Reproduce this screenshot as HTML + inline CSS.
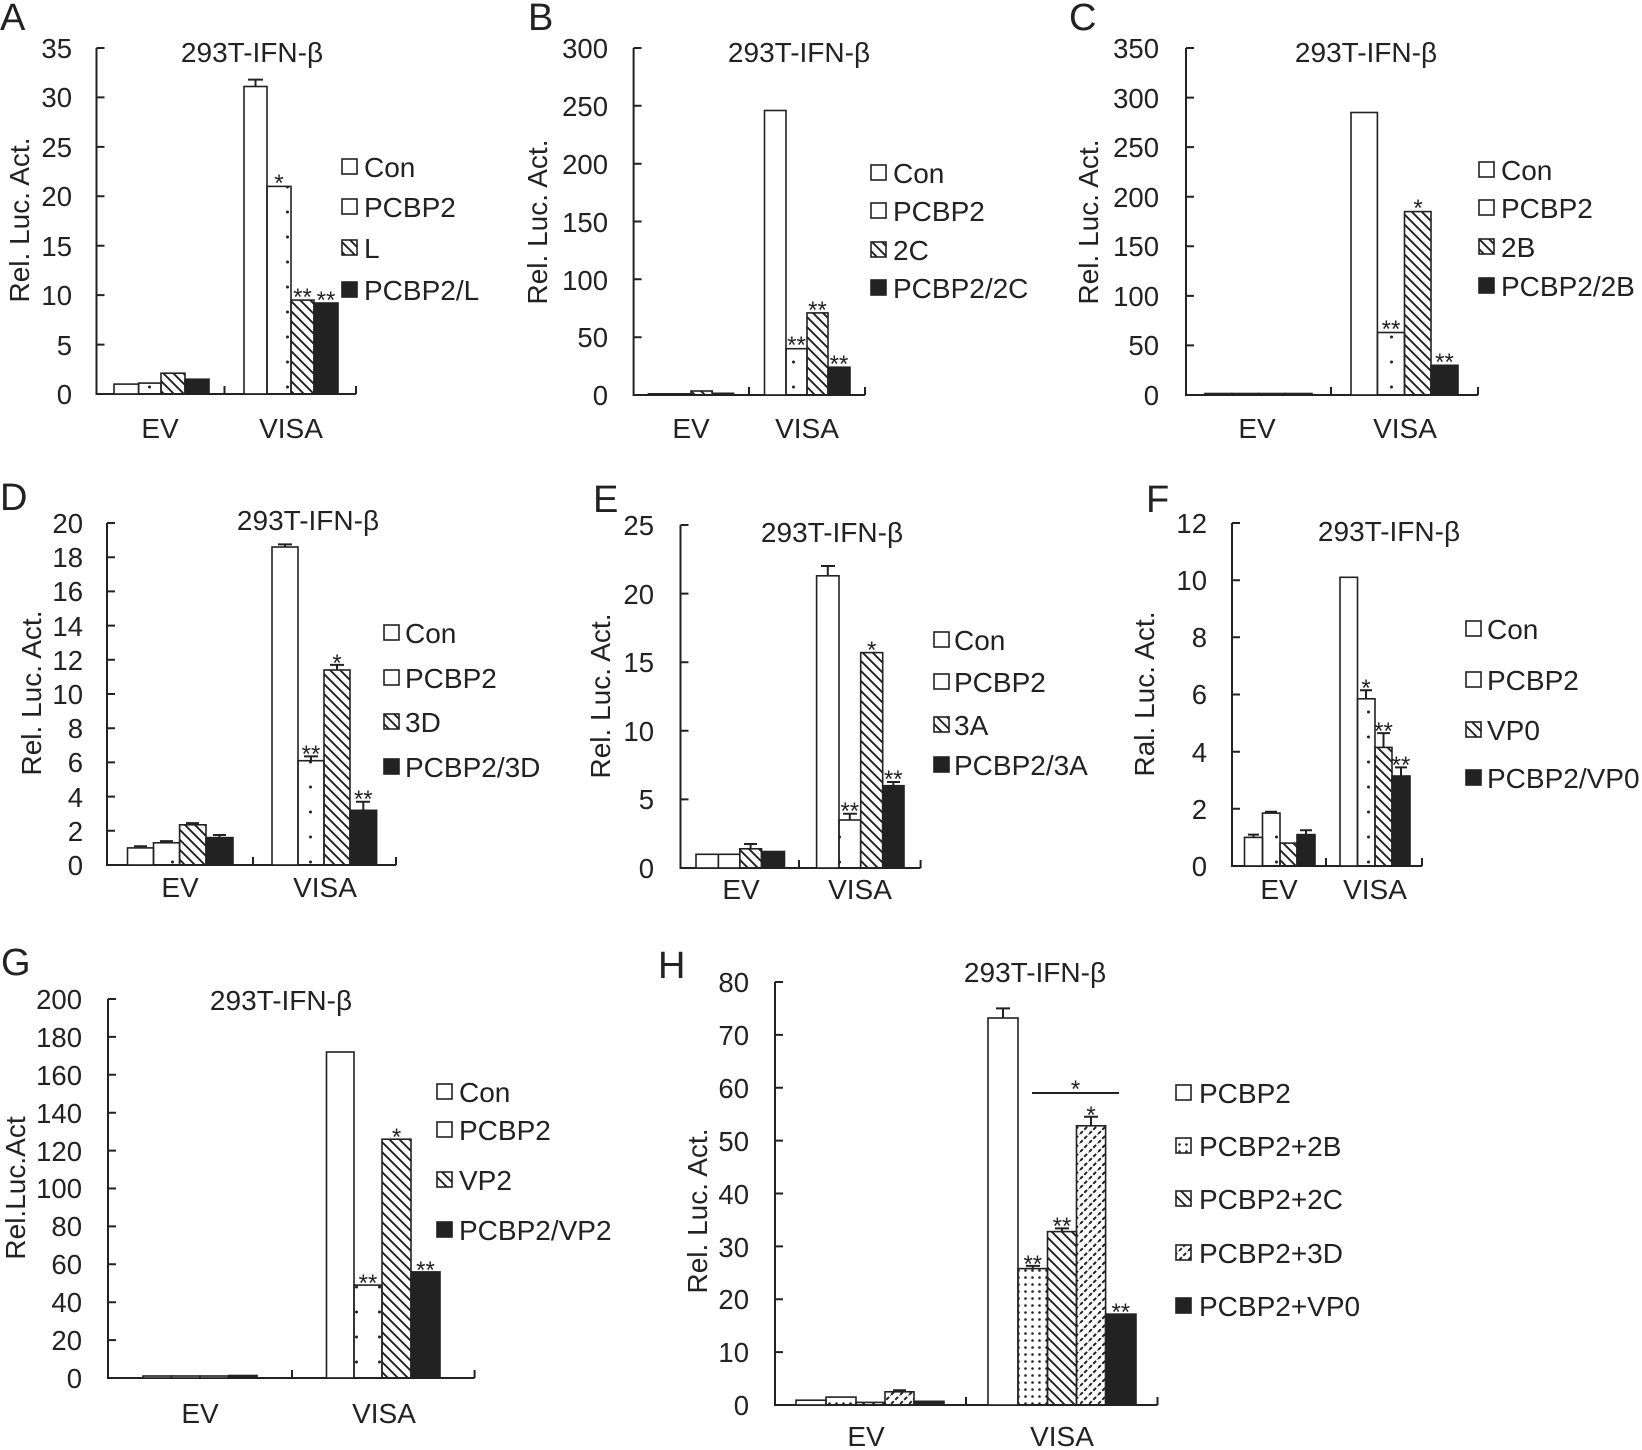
<!DOCTYPE html>
<html><head><meta charset="utf-8"><style>
html,body{margin:0;padding:0;background:#fff;}
svg{display:block;font-family:"Liberation Sans",Arial,sans-serif;}
</style></head><body>
<svg width="1642" height="1450" xmlns="http://www.w3.org/2000/svg">
<defs>
<pattern id="dots" patternUnits="userSpaceOnUse" width="23" height="25"><circle cx="11.5" cy="12" r="1.5" fill="#222"/></pattern>
<pattern id="hatch" patternUnits="userSpaceOnUse" width="10" height="10"><path d="M0,0 L10,10 M-3,7 L3,13 M7,-3 L13,3" stroke="#222" stroke-width="1.9"/></pattern>
<pattern id="ddots" patternUnits="userSpaceOnUse" width="7" height="7"><circle cx="3.5" cy="3.5" r="1.3" fill="#222"/></pattern>
<pattern id="fwd" patternUnits="userSpaceOnUse" width="9" height="9"><path d="M0,9 L9,0 M-3,3 L3,-3 M6,12 L12,6" stroke="#222" stroke-width="2" stroke-dasharray="4,2"/></pattern>
</defs>
<g fill="#222" font-size="38">
<text x="0" y="30">A</text><text x="528" y="30">B</text><text x="1069" y="30">C</text>
<text x="0" y="510">D</text><text x="593" y="512">E</text><text x="1146" y="512">F</text>
<text x="1" y="975">G</text><text x="658" y="978">H</text>
</g>
<g fill="#222" font-size="28" text-anchor="middle">
<text x="252" y="62">293T-IFN-β</text><text x="799" y="62">293T-IFN-β</text><text x="1366" y="62">293T-IFN-β</text>
<text x="308" y="530">293T-IFN-β</text><text x="832" y="542">293T-IFN-β</text><text x="1389" y="541">293T-IFN-β</text>
<text x="281" y="1010">293T-IFN-β</text><text x="1035" y="982">293T-IFN-β</text>
<text x="160" y="438">EV</text><text x="291" y="438">VISA</text>
<text x="691" y="438">EV</text><text x="807" y="438">VISA</text>
<text x="1257" y="438">EV</text><text x="1405" y="438">VISA</text>
<text x="180" y="897">EV</text><text x="325" y="897">VISA</text>
<text x="741" y="899">EV</text><text x="860" y="899">VISA</text>
<text x="1279" y="899">EV</text><text x="1375" y="899">VISA</text>
<text x="200" y="1423">EV</text><text x="384" y="1423">VISA</text>
<text x="866" y="1446">EV</text><text x="1062" y="1446">VISA</text>
<text transform="translate(29,220) rotate(-90)">Rel. Luc. Act.</text>
<text transform="translate(547,222) rotate(-90)">Rel. Luc. Act.</text>
<text transform="translate(1098,222) rotate(-90)">Rel. Luc. Act.</text>
<text transform="translate(41,693) rotate(-90)">Rel. Luc. Act.</text>
<text transform="translate(610,696) rotate(-90)">Rel. Luc. Act.</text>
<text transform="translate(1154,694) rotate(-90)">Ral. Luc. Act.</text>
<text transform="translate(25,1188) rotate(-90)">Rel.Luc.Act</text>
<text transform="translate(707,1211) rotate(-90)">Rel. Luc. Act.</text>
</g>
<g fill="#222" font-size="27.5" text-anchor="end">
<text x="72" y="58">35</text><text x="72" y="107">30</text><text x="72" y="157">25</text><text x="72" y="206">20</text><text x="72" y="256">15</text><text x="72" y="305">10</text><text x="72" y="355">5</text><text x="72" y="404">0</text>
<text x="608" y="58">300</text><text x="608" y="116">250</text><text x="608" y="174">200</text><text x="608" y="232">150</text><text x="608" y="290">100</text><text x="608" y="347">50</text><text x="608" y="405">0</text>
<text x="1159" y="58">350</text><text x="1159" y="108">300</text><text x="1159" y="157">250</text><text x="1159" y="207">200</text><text x="1159" y="256">150</text><text x="1159" y="306">100</text><text x="1159" y="355">50</text><text x="1159" y="405">0</text>
<text x="83" y="533">20</text><text x="83" y="567">18</text><text x="83" y="601">16</text><text x="83" y="636">14</text><text x="83" y="670">12</text><text x="83" y="704">10</text><text x="83" y="738">8</text><text x="83" y="772">6</text><text x="83" y="807">4</text><text x="83" y="841">2</text><text x="83" y="875">0</text>
<text x="654" y="535">25</text><text x="654" y="604">20</text><text x="654" y="672">15</text><text x="654" y="741">10</text><text x="654" y="809">5</text><text x="654" y="878">0</text>
<text x="1207" y="533">12</text><text x="1207" y="590">10</text><text x="1207" y="647">8</text><text x="1207" y="704">6</text><text x="1207" y="762">4</text><text x="1207" y="819">2</text><text x="1207" y="876">0</text>
<text x="82" y="1009">200</text><text x="82" y="1047">180</text><text x="82" y="1085">160</text><text x="82" y="1123">140</text><text x="82" y="1161">120</text><text x="82" y="1198">100</text><text x="82" y="1236">80</text><text x="82" y="1274">60</text><text x="82" y="1312">40</text><text x="82" y="1350">20</text><text x="82" y="1388">0</text>
<text x="749" y="992">80</text><text x="749" y="1045">70</text><text x="749" y="1098">60</text><text x="749" y="1151">50</text><text x="749" y="1204">40</text><text x="749" y="1257">30</text><text x="749" y="1309">20</text><text x="749" y="1362">10</text><text x="749" y="1415">0</text>
</g>
<g stroke="#222" stroke-width="2" fill="none">
<path d="M96.5,48 V394 H356 M96.5,48 h8 M96.5,97.4 h8 M96.5,146.9 h8 M96.5,196.3 h8 M96.5,245.7 h8 M96.5,295.1 h8 M96.5,344.6 h8 M224.5,394 v-8 M356,394 v-8"/>
<path d="M633.6,48 V395 H865 M633.6,48 h8 M633.6,105.8 h8 M633.6,163.7 h8 M633.6,221.5 h8 M633.6,279.3 h8 M633.6,337.2 h8 M749,395 v-8 M865,395 v-8"/>
<path d="M1186,48 V395 H1478 M1186,48 h8 M1186,97.6 h8 M1186,147.1 h8 M1186,196.7 h8 M1186,246.3 h8 M1186,295.9 h8 M1186,345.4 h8 M1331,395 v-8 M1478,395 v-8"/>
<path d="M107,523 V865 H396 M107,523 h8 M107,557.2 h8 M107,591.4 h8 M107,625.6 h8 M107,659.8 h8 M107,694 h8 M107,728.2 h8 M107,762.4 h8 M107,796.6 h8 M107,830.8 h8 M253,865 v-8 M396,865 v-8"/>
<path d="M680.5,525 V868 H920.6 M680.5,525 h8 M680.5,593.6 h8 M680.5,662.2 h8 M680.5,730.8 h8 M680.5,799.4 h8 M799,868 v-8 M920.6,868 v-8"/>
<path d="M1232,523 V866 H1422 M1232,523 h8 M1232,580.2 h8 M1232,637.3 h8 M1232,694.5 h8 M1232,751.7 h8 M1232,808.8 h8 M1326,866 v-8 M1422,866 v-8"/>
<path d="M108,999 V1378 H474.6 M108,999 h8 M108,1036.9 h8 M108,1074.8 h8 M108,1112.7 h8 M108,1150.6 h8 M108,1188.5 h8 M108,1226.4 h8 M108,1264.3 h8 M108,1302.2 h8 M108,1340.1 h8 M292,1378 v-8 M474.6,1378 v-8"/>
<path d="M775,982 V1405 H1157.5 M775,982 h8 M775,1034.9 h8 M775,1087.8 h8 M775,1140.6 h8 M775,1193.5 h8 M775,1246.4 h8 M775,1299.3 h8 M775,1352.1 h8 M966,1405 v-8 M1157.5,1405 v-8"/>
<path d="M1032,1093 H1119"/>
</g>
<g stroke="#222" stroke-width="1.6">
<rect x="114" y="384.1" width="24.6" height="9.9" fill="#fff"/><rect x="138.6" y="383.1" width="22.4" height="10.9" fill="url(#dots)"/><rect x="161" y="373.2" width="24" height="20.8" fill="url(#hatch)"/><rect x="185" y="379.2" width="24" height="14.8" fill="#222"/>
<rect x="244" y="86.5" width="23" height="307.5" fill="#fff"/><rect x="267" y="186.4" width="24" height="207.6" fill="url(#dots)"/><rect x="291" y="300.1" width="23" height="93.9" fill="url(#hatch)"/><rect x="314" y="303" width="24" height="91" fill="#222"/>
<rect x="648.5" y="393.8" width="21.25" height="1.2" fill="#fff"/><rect x="669.75" y="393.8" width="21.25" height="1.2" fill="#fff"/><rect x="691" y="391" width="21.25" height="4" fill="url(#hatch)"/><rect x="712.25" y="393.3" width="21.25" height="1.7" fill="#222"/>
<rect x="764.5" y="110.5" width="21.5" height="284.5" fill="#fff"/><rect x="786" y="348.7" width="21" height="46.3" fill="url(#dots)"/><rect x="807" y="312.9" width="21" height="82.1" fill="url(#hatch)"/><rect x="828" y="367.2" width="22" height="27.8" fill="#222"/>
<rect x="1205" y="393.5" width="26.75" height="1.5" fill="#fff"/><rect x="1231.75" y="393.5" width="26.75" height="1.5" fill="#fff"/><rect x="1258.5" y="393.5" width="26.75" height="1.5" fill="#fff"/><rect x="1285.25" y="393.5" width="26.75" height="1.5" fill="#222"/>
<rect x="1351" y="112.5" width="26.4" height="282.5" fill="#fff"/><rect x="1377.4" y="332.5" width="27.1" height="62.5" fill="url(#dots)"/><rect x="1404.5" y="211.6" width="26.5" height="183.4" fill="url(#hatch)"/><rect x="1431" y="365.3" width="27" height="29.7" fill="#222"/>
<rect x="127.5" y="847.9" width="26" height="17.1" fill="#fff"/><rect x="153.5" y="842.8" width="26.1" height="22.2" fill="url(#dots)"/><rect x="179.6" y="824.8" width="26.4" height="40.2" fill="url(#hatch)"/><rect x="206" y="837.6" width="27" height="27.4" fill="#222"/>
<rect x="272" y="547" width="26" height="318" fill="#fff"/><rect x="298" y="760.7" width="26" height="104.3" fill="url(#dots)"/><rect x="324" y="670" width="26" height="195" fill="url(#hatch)"/><rect x="350" y="810.3" width="26.6" height="54.7" fill="#222"/>
<rect x="696" y="854.3" width="22.4" height="13.7" fill="#fff"/><rect x="718.4" y="854.3" width="21.4" height="13.7" fill="#fff"/><rect x="739.8" y="848.8" width="21.7" height="19.2" fill="url(#hatch)"/><rect x="761.5" y="851.5" width="23" height="16.5" fill="#222"/>
<rect x="816.6" y="575.8" width="22.4" height="292.2" fill="#fff"/><rect x="839" y="820" width="21.7" height="48" fill="url(#dots)"/><rect x="860.7" y="652.6" width="22" height="215.4" fill="url(#hatch)"/><rect x="882.7" y="785.7" width="21.3" height="82.3" fill="#222"/>
<rect x="1244.5" y="837.4" width="18" height="28.6" fill="#fff"/><rect x="1262.5" y="813.1" width="17.5" height="52.9" fill="url(#dots)"/><rect x="1280" y="843.1" width="17" height="22.9" fill="url(#hatch)"/><rect x="1297" y="834.6" width="18" height="31.4" fill="#222"/>
<rect x="1340" y="577.3" width="17.5" height="288.7" fill="#fff"/><rect x="1357.5" y="698.8" width="17.5" height="167.2" fill="url(#dots)"/><rect x="1375" y="747.4" width="17" height="118.6" fill="url(#hatch)"/><rect x="1392" y="776" width="18" height="90" fill="#222"/>
<rect x="143" y="1376" width="28.5" height="2" fill="#fff"/><rect x="171.5" y="1376" width="28.5" height="2" fill="#fff"/><rect x="200" y="1376" width="28.5" height="2" fill="#fff"/><rect x="228.5" y="1375.5" width="28.5" height="2.5" fill="#222"/>
<rect x="326.5" y="1052" width="27.5" height="326" fill="#fff"/><rect x="354" y="1285.1" width="28" height="92.9" fill="url(#dots)"/><rect x="382" y="1139.2" width="29" height="238.8" fill="url(#hatch)"/><rect x="411" y="1271.9" width="29" height="106.1" fill="#222"/>
<rect x="796" y="1400.2" width="30" height="4.8" fill="#fff"/><rect x="826" y="1397.1" width="30" height="7.9" fill="url(#ddots)"/><rect x="856" y="1402.4" width="29" height="2.6" fill="url(#hatch)"/><rect x="885" y="1391.8" width="29" height="13.2" fill="url(#fwd)"/><rect x="914" y="1401.3" width="30" height="3.7" fill="#222"/>
<rect x="988" y="1018" width="30" height="387" fill="#fff"/><rect x="1018" y="1268.6" width="29.5" height="136.4" fill="url(#ddots)"/><rect x="1047.5" y="1231.6" width="29" height="173.4" fill="url(#hatch)"/><rect x="1076.5" y="1125.8" width="29.1" height="279.2" fill="url(#fwd)"/><rect x="1105.6" y="1314.1" width="30.4" height="90.9" fill="#222"/>
</g>
<g stroke="#222" stroke-width="2" fill="none">
<path d="M255.5,86.5 V79.6 M248,79.6 h15"/>
<path d="M140.5,847.9 V846.2 M134,846.2 h13 M166.5,842.8 V841.1 M160,841.1 h13 M192.8,824.8 V823.1 M186,823.1 h13 M219.5,837.6 V835 M213,835 h13"/>
<path d="M285,547 V544.4 M278,544.4 h14 M311,760.7 V756.4 M304,756.4 h14 M337,670 V664.9 M330,664.9 h14 M363.3,810.3 V801.7 M356,801.7 h14"/>
<path d="M750.6,848.8 V844 M744,844 h13 M827.8,575.8 V566 M821,566 h14 M849.8,820 V813.8 M843,813.8 h14 M893.3,785.7 V782 M887,782 h13"/>
<path d="M1253.5,837.4 V834.6 M1248,834.6 h11 M1271,813.1 V811.7 M1265,811.7 h12 M1306,834.6 V830.3 M1300,830.3 h12"/>
<path d="M1366,698.8 V690.2 M1360,690.2 h12 M1383.5,747.4 V733.1 M1377,733.1 h13 M1401,776 V767.4 M1395,767.4 h12"/>
<path d="M899.5,1391.8 V1390.2 M893,1390.2 h13 M1003,1018 V1008.4 M996,1008.4 h14 M1032.8,1268.6 V1265.9 M1026,1265.9 h14 M1062,1231.6 V1228.4 M1055,1228.4 h14 M1091,1125.8 V1116.8 M1084,1116.8 h14"/>
</g>
<g fill="#222" font-size="24" text-anchor="middle">
<text x="279" y="191">*</text><text x="302.5" y="305">**</text><text x="326" y="308">**</text>
<text x="796.5" y="353">**</text><text x="817.5" y="318">**</text><text x="839" y="372">**</text>
<text x="1391" y="337">**</text><text x="1418" y="216">*</text><text x="1444.5" y="370">**</text>
<text x="311" y="762">**</text><text x="337" y="671">*</text><text x="363.3" y="807">**</text>
<text x="849.8" y="819">**</text><text x="871.7" y="658">*</text><text x="893.3" y="787">**</text>
<text x="1366" y="696">*</text><text x="1383.5" y="739">**</text><text x="1401" y="773">**</text>
<text x="368" y="1291">**</text><text x="396.5" y="1145">*</text><text x="425.5" y="1278">**</text>
<text x="1032.8" y="1272">**</text><text x="1062" y="1234">**</text><text x="1091" y="1123">*</text><text x="1120.8" y="1320">**</text>
<text x="1075.6" y="1097">*</text>
</g>
<g stroke="#222" stroke-width="1.6">
<rect x="342" y="159" width="15" height="15" fill="#fff"/><rect x="342" y="199" width="15" height="15" fill="#fff"/><rect x="342" y="240" width="15" height="15" fill="url(#hatch)"/><rect x="342" y="282" width="15" height="15" fill="#222"/>
<rect x="871" y="165" width="15" height="15" fill="#fff"/><rect x="871" y="203" width="15" height="15" fill="#fff"/><rect x="871" y="242" width="15" height="15" fill="url(#hatch)"/><rect x="871" y="280" width="15" height="15" fill="#222"/>
<rect x="1479" y="162" width="15" height="15" fill="#fff"/><rect x="1479" y="200" width="15" height="15" fill="#fff"/><rect x="1479" y="239" width="15" height="15" fill="url(#hatch)"/><rect x="1479" y="278" width="15" height="15" fill="#222"/>
<rect x="384" y="625" width="15" height="15" fill="#fff"/><rect x="384" y="670" width="15" height="15" fill="#fff"/><rect x="384" y="714" width="15" height="15" fill="url(#hatch)"/><rect x="384" y="759" width="15" height="15" fill="#222"/>
<rect x="934" y="632" width="15" height="15" fill="#fff"/><rect x="934" y="674" width="15" height="15" fill="#fff"/><rect x="934" y="717" width="15" height="15" fill="url(#hatch)"/><rect x="934" y="757" width="15" height="15" fill="#222"/>
<rect x="1466" y="621" width="15" height="15" fill="#fff"/><rect x="1466" y="672" width="15" height="15" fill="#fff"/><rect x="1466" y="722" width="15" height="15" fill="url(#hatch)"/><rect x="1466" y="770" width="15" height="15" fill="#222"/>
<rect x="437" y="1084" width="15" height="15" fill="#fff"/><rect x="437" y="1122" width="15" height="15" fill="#fff"/><rect x="437" y="1172" width="15" height="15" fill="url(#hatch)"/><rect x="437" y="1222" width="15" height="15" fill="#222"/>
<rect x="1176" y="1085" width="15" height="15" fill="#fff"/><rect x="1176" y="1138" width="15" height="15" fill="url(#ddots)"/><rect x="1176" y="1191" width="15" height="15" fill="url(#hatch)"/><rect x="1176" y="1245" width="15" height="15" fill="url(#fwd)"/><rect x="1176" y="1298" width="15" height="15" fill="#222"/>
</g>
<g fill="#222" font-size="28">
<text x="364" y="177">Con</text><text x="364" y="217">PCBP2</text><text x="364" y="258">L</text><text x="364" y="300">PCBP2/L</text>
<text x="893" y="183">Con</text><text x="893" y="221">PCBP2</text><text x="893" y="260">2C</text><text x="893" y="298">PCBP2/2C</text>
<text x="1501" y="180">Con</text><text x="1501" y="218">PCBP2</text><text x="1501" y="257">2B</text><text x="1501" y="296">PCBP2/2B</text>
<text x="405" y="643">Con</text><text x="405" y="688">PCBP2</text><text x="405" y="732">3D</text><text x="405" y="777">PCBP2/3D</text>
<text x="954" y="650">Con</text><text x="954" y="692">PCBP2</text><text x="954" y="735">3A</text><text x="954" y="775">PCBP2/3A</text>
<text x="1487" y="639">Con</text><text x="1487" y="690">PCBP2</text><text x="1487" y="740">VP0</text><text x="1487" y="788">PCBP2/VP0</text>
<text x="459" y="1102">Con</text><text x="459" y="1140">PCBP2</text><text x="459" y="1190">VP2</text><text x="459" y="1240">PCBP2/VP2</text>
<text x="1199" y="1103">PCBP2</text><text x="1199" y="1156">PCBP2+2B</text><text x="1199" y="1209">PCBP2+2C</text><text x="1199" y="1263">PCBP2+3D</text><text x="1199" y="1316">PCBP2+VP0</text>
</g>
</svg>
</body></html>
